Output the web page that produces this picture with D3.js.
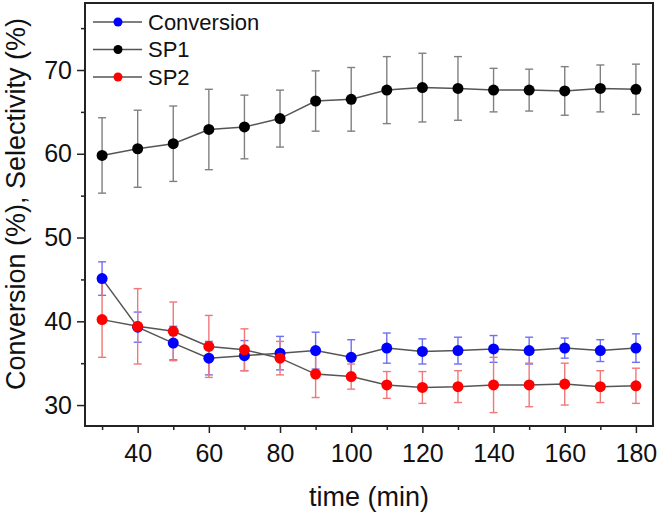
<!DOCTYPE html>
<html><head><meta charset="utf-8">
<script src="https://cdn.jsdelivr.net/npm/d3@7"></script>
<style>body{margin:0;background:#fff}svg{display:block;font-family:Arial,"Liberation Sans",sans-serif}</style>
</head><body>
<svg id="c" width="661" height="515"></svg>
<script>
const time = [30,40,50,60,70,80,90,100,110,120,130,140,150,160,170,180];
const conversion    = [45.1,39.3,37.4,35.6,35.9,36.2,36.5,35.7,36.8,36.4,36.5,36.7,36.5,36.8,36.5,36.8];
const conversionErr = [2.0,1.8,2.0,2.0,1.8,2.0,2.2,2.1,1.8,1.5,1.6,1.6,1.6,1.2,1.3,1.7];
const sp1    = [59.8,60.6,61.2,62.9,63.2,64.2,66.3,66.5,67.6,67.9,67.8,67.6,67.6,67.5,67.8,67.7];
const sp1Err = [4.5,4.6,4.5,4.8,3.8,3.4,3.6,3.8,4.0,4.1,3.8,2.6,2.5,2.9,2.8,3.0];
const sp2    = [40.2,39.4,38.8,37.0,36.6,35.6,33.7,33.4,32.4,32.1,32.2,32.4,32.4,32.5,32.2,32.3];
const sp2Err = [4.5,4.5,3.5,3.7,2.5,2.0,2.8,1.5,1.6,1.9,1.9,3.3,2.6,2.5,1.9,2.1];
const seriesNames = ["Conversion","SP1","SP2"];
const xMajorTicks = [40,60,80,100,120,140,160,180];
const xMinorTicks = [30,50,70,90,110,130,150,170];
const yMajorTicks = [30,40,50,60,70];
const yMinorTicks = [35,45,55,65,75];

const series = [
  {name:seriesNames[0], vals:conversion, err:conversionErr, fill:"#0000ff", errColor:"#6f6ff2"},
  {name:seriesNames[1], vals:sp1, err:sp1Err, fill:"#000000", errColor:"#808080"},
  {name:seriesNames[2], vals:sp2, err:sp2Err, fill:"#ff0000", errColor:"#f07878"}
];

const svg = d3.select("#c");
const L=85, T=3, R=653, B=426;
const x = d3.scaleLinear().domain([25.2,184.8]).range([L,R]);
const y = d3.scaleLinear().domain([27.5,78]).range([B,T]);

// axes
svg.append("g").attr("transform",`translate(0,${B})`)
  .call(d3.axisBottom(x).tickValues(xMajorTicks).tickFormat(d3.format("d")).tickSize(7).tickPadding(11));
svg.append("g").attr("transform",`translate(0,${B})`)
  .call(d3.axisBottom(x).tickValues(xMinorTicks).tickFormat("").tickSize(4));
svg.append("g").attr("transform",`translate(${L},0)`)
  .call(d3.axisLeft(y).tickValues(yMajorTicks).tickFormat(d3.format("d")).tickSize(8).tickPadding(5));
svg.append("g").attr("transform",`translate(${L},0)`)
  .call(d3.axisLeft(y).tickValues(yMinorTicks).tickFormat("").tickSize(4));
svg.selectAll(".domain").remove();
svg.selectAll(".tick line").attr("stroke","#222").attr("stroke-width",1.5);
svg.selectAll(".tick text").attr("font-size",25).attr("fill","#111").attr("font-family","Arial, 'Liberation Sans', sans-serif");

// frame
svg.append("rect").attr("x",L).attr("y",T).attr("width",R-L).attr("height",B-T)
  .attr("fill","none").attr("stroke","#222").attr("stroke-width",2);

// error bars
series.forEach(s=>{
  const g = svg.append("g").attr("stroke",s.errColor).attr("stroke-width",1.4);
  time.forEach((t,i)=>{
    const cx=x(t), y1=y(s.vals[i]+s.err[i]), y2=y(s.vals[i]-s.err[i]);
    g.append("line").attr("x1",cx).attr("x2",cx).attr("y1",y1).attr("y2",y2);
    g.append("line").attr("x1",cx-4).attr("x2",cx+4).attr("y1",y1).attr("y2",y1);
    g.append("line").attr("x1",cx-4).attr("x2",cx+4).attr("y1",y2).attr("y2",y2);
  });
});
// lines
const line = d3.line().x((d,i)=>x(time[i])).y(d=>y(d));
series.forEach(s=>{
  svg.append("path").attr("d",line(s.vals)).attr("fill","none").attr("stroke","#555").attr("stroke-width",1.5);
});
// markers
series.forEach(s=>{
  svg.append("g").selectAll("circle").data(s.vals).join("circle")
    .attr("cx",(d,i)=>x(time[i])).attr("cy",d=>y(d)).attr("r",5.5).attr("fill",s.fill);
});

// legend
const lg = svg.append("g");
series.forEach((s,i)=>{
  const yy = 22 + i*27.5;
  lg.append("line").attr("x1",93).attr("x2",142).attr("y1",yy).attr("y2",yy).attr("stroke","#555").attr("stroke-width",1.5);
  lg.append("circle").attr("cx",118).attr("cy",yy).attr("r",4.5).attr("fill",s.fill);
  lg.append("text").attr("x",148).attr("y",yy).attr("dy","0.36em").attr("font-size",22).attr("fill","#111").text(s.name);
});

// axis titles
svg.append("text").attr("x",(L+R)/2).attr("y",506).attr("text-anchor","middle")
  .attr("font-size",27).attr("fill","#111").text("time (min)");
svg.append("text").attr("transform","translate(25,204) rotate(-90)").attr("text-anchor","middle")
  .attr("font-size",27).attr("fill","#111").text("Conversion (%), Selectivity (%)");
</script>
</body></html>
